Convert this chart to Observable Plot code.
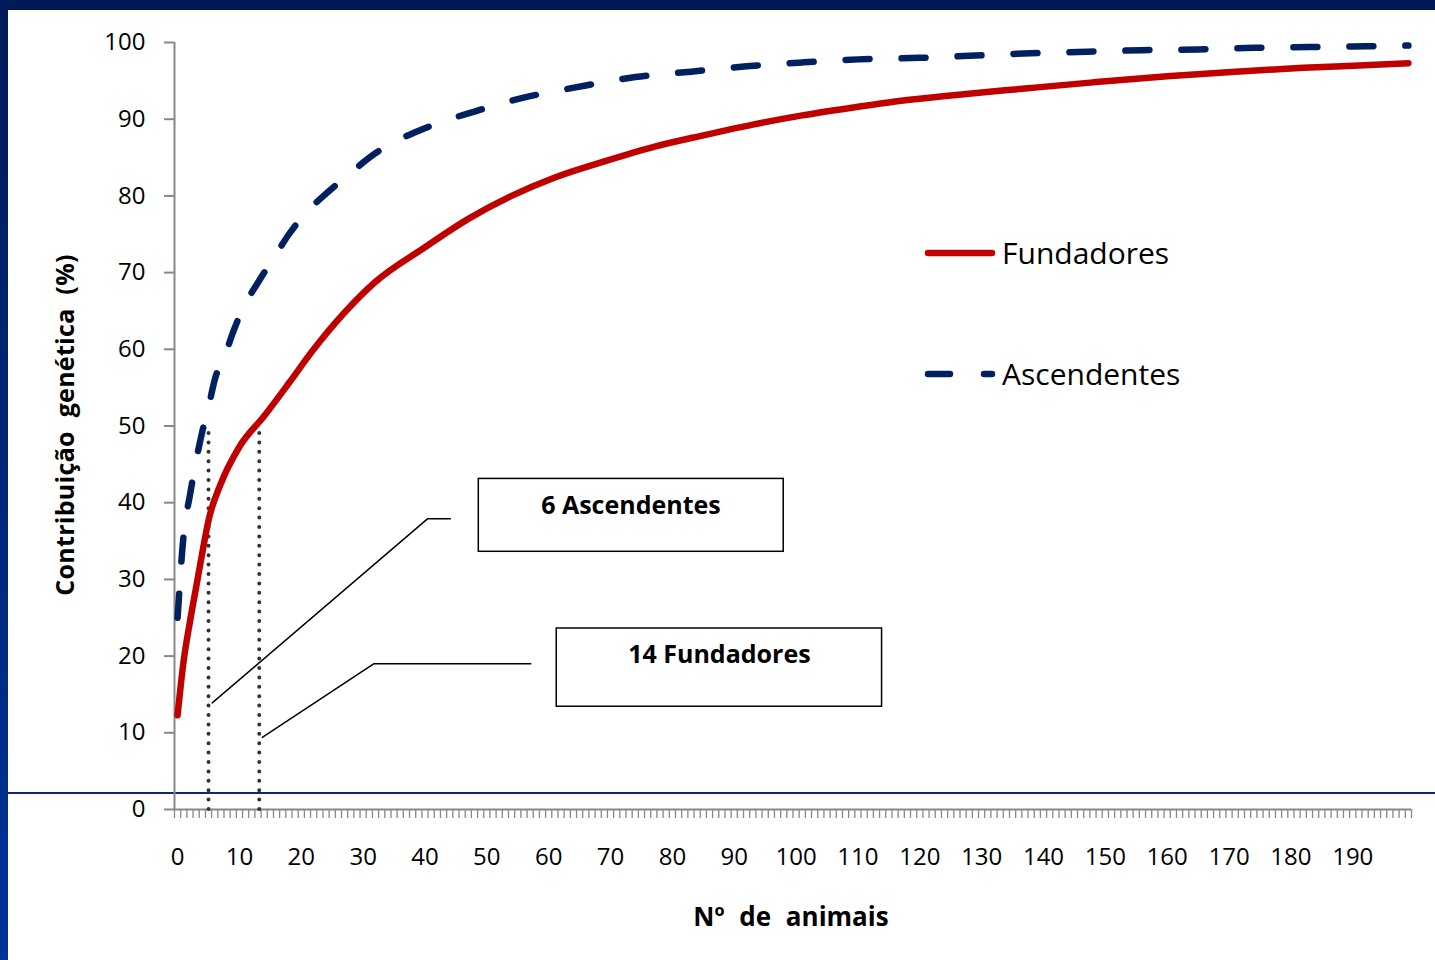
<!DOCTYPE html>
<html>
<head>
<meta charset="utf-8">
<script src="https://cdn.jsdelivr.net/npm/d3@7"></script>
<script src="https://cdn.jsdelivr.net/npm/@observablehq/plot@0.6"></script>
<style>
  html, body { margin: 0; padding: 0; background: #ffffff; }
  body { width: 1435px; height: 960px; position: relative; overflow: hidden;
         font-family: "Comic Sans MS", "Open Sans", sans-serif; }
  #chart { position: absolute; left: 0; top: 0; }
  .band-top { position: absolute; left: 0; top: 0; width: 1435px; height: 10px; background: #001a57; }
  .band-left { position: absolute; left: 0; top: 0; width: 8px; height: 960px;
               background: linear-gradient(#001a57, #003399); }
  .hline { position: absolute; left: 8px; top: 792px; width: 1427px; height: 1.5px; background: #0b2a6b; }
  .ytitle { position: absolute; left: 64px; top: 425px; transform: translate(-50%, -50%) rotate(-90deg);
            font-weight: bold; font-size: 25px; white-space: nowrap; word-spacing: 7px; letter-spacing: 0.3px; color: #000; }
  .xtitle { position: absolute; left: 791px; top: 916px; transform: translate(-50%, -50%);
            font-weight: bold; font-size: 26px; white-space: nowrap; word-spacing: 8px; color: #000; }
  #legend { position: absolute; left: 900px; top: 210px; }
</style>
</head>
<body>
<div class="hline"></div>
<div id="chart"></div>
<div class="band-top"></div>
<div class="band-left"></div>
<div class="ytitle">Contribuição genética (%)</div>
<div class="xtitle">Nº de animais</div>
<svg id="legend" width="320" height="200"></svg>
<script>
// ---- Data ----
const fundadoresX = [0, 1, 2, 3, 4, 5, 7, 10, 14, 18, 22, 27, 32, 40, 47, 54, 61, 69, 77, 85, 93, 101, 109, 117, 125, 137, 148, 160, 171, 182, 191, 199];
const fundadoresY = [12.3, 19.5, 24.5, 29, 33.5, 37.7, 42.5, 47.3, 51.3, 55.6, 60, 64.8, 68.8, 73.3, 77.0, 80.0, 82.4, 84.5, 86.4, 87.9, 89.3, 90.5, 91.5, 92.4, 93.1, 94.0, 94.8, 95.6, 96.2, 96.7, 97.0, 97.3];

const ascendentesX = [0, 1, 2, 3, 4, 5, 6, 8, 9, 11, 13, 16, 18, 21, 24, 28, 31, 35, 39, 44, 48, 53, 57, 62, 66, 74, 83, 92, 101, 110, 120, 129, 138, 147, 156, 165, 174, 183, 192, 199];
const ascendentesY = [25, 36, 41, 45.5, 49.3, 52.5, 56, 60, 62.3, 66, 68.7, 72.5, 75, 78, 80.3, 83, 85, 87, 88.5, 90, 91, 92.2, 93, 93.8, 94.4, 95.5, 96.2, 96.9, 97.4, 97.8, 98.0, 98.3, 98.6, 98.8, 99.0, 99.1, 99.3, 99.4, 99.5, 99.6];

const yTicks = [0, 10, 20, 30, 40, 50, 60, 70, 80, 90, 100];
const xTickLabels = [0, 10, 20, 30, 40, 50, 60, 70, 80, 90, 100, 110, 120, 130, 140, 150, 160, 170, 180, 190];
const xMinorTicks = d3.range(-0.5, 200, 1);

// markers: animals needed to reach 50%
const markerX = [5, 13.2];
const markerY = 50;

// annotation boxes
const boxLabels = ["6 Ascendentes", "14 Fundadores"];
const boxX1 = [48.7, 61.3];
const boxX2 = [98.0, 113.9];
const boxY1 = [33.6, 13.4];
const boxY2 = [43.1, 23.6];
const boxTextX = [73.3, 87.6];
const boxTextY = [39.6, 20.2];

// callout leader lines
const calloutId = ["a", "a", "a", "b", "b", "b"];
const calloutX = [5.6, 40.4, 44.1, 13.7, 31.7, 57.1];
const calloutY = [13.9, 37.9, 37.9, 9.4, 19.0, 19.0];

// ---- Build tables ----
const fundadores = fundadoresX.map((x, i) => ({x, y: fundadoresY[i]}));
const ascendentes = ascendentesX.map((x, i) => ({x, y: ascendentesY[i]}));
const boxes = boxLabels.map((label, i) => ({label, x1: boxX1[i], x2: boxX2[i], y1: boxY1[i], y2: boxY2[i], tx: boxTextX[i], ty: boxTextY[i]}));
const callouts = calloutX.map((x, i) => ({id: calloutId[i], x, y: calloutY[i]}));

const RED = "#c00000";
const NAVY = "#002060";
const FONT = "'Comic Sans MS', 'Open Sans', sans-serif";

const chart = Plot.plot({
  width: 1435,
  height: 960,
  marginTop: 42,
  marginBottom: 151,
  marginLeft: 174,
  marginRight: 24,
  x: {domain: [-0.5, 199.5]},
  y: {domain: [0, 100]},
  style: {fontFamily: FONT, fontSize: "24px", background: "transparent", color: "#000", overflow: "visible"},
  marks: [
    Plot.axisY({ticks: yTicks, tickSize: 10, tickPadding: 19, stroke: "#888", strokeWidth: 2, label: null, fontSize: 24}),
    Plot.axisX({ticks: xMinorTicks, tickSize: 9, tickFormat: () => "", stroke: "#888", strokeWidth: 1.3, label: null}),
    Plot.axisX({ticks: xTickLabels, tickSize: 0, tickPadding: 38, label: null, fontSize: 24}),
    Plot.ruleX([-0.5], {y1: 0, y2: 100, stroke: "#888", strokeWidth: 2}),
    Plot.ruleY([0], {stroke: "#888", strokeWidth: 2}),
    Plot.ruleX(markerX, {x: d => d, y1: 0, y2: markerY, stroke: "#333", strokeWidth: 4, strokeDasharray: "0 9.4", strokeLinecap: "round"}),
    Plot.line(callouts, {x: "x", y: "y", z: "id", stroke: "#000", strokeWidth: 1.5}),
    Plot.rect(boxes, {x1: "x1", x2: "x2", y1: "y1", y2: "y2", fill: "#fff", stroke: "#000", strokeWidth: 1.5}),
    Plot.text(boxes, {x: "tx", y: "ty", text: "label", fontWeight: "bold", fontSize: 25, textAnchor: "middle", lineAnchor: "middle", fill: "#000"}),
    Plot.line(fundadores, {x: "x", y: "y", stroke: RED, strokeWidth: 6.5, strokeLinecap: "round", strokeLinejoin: "round", curve: "monotone-x"}),
    Plot.line(ascendentes, {x: "x", y: "y", stroke: NAVY, strokeWidth: 6.5, strokeLinecap: "round", strokeDasharray: "24 32", curve: "monotone-x"})
  ]
});
document.getElementById("chart").appendChild(chart);

// ---- Legend ----
const legendItems = [
  {label: "Fundadores", color: RED, dash: null, y: 43},
  {label: "Ascendentes", color: NAVY, dash: "22 34", y: 164}
];
const lg = d3.select("#legend");
legendItems.forEach(it => {
  const ln = lg.append("line")
    .attr("x1", 28).attr("x2", 92)
    .attr("y1", it.y).attr("y2", it.y)
    .attr("stroke", it.color).attr("stroke-width", 6.5).attr("stroke-linecap", "round");
  if (it.dash) ln.attr("stroke-dasharray", it.dash);
  lg.append("text").attr("x", 102).attr("y", it.y).attr("dy", "0.35em")
    .attr("font-family", FONT).attr("font-size", 30).attr("fill", "#000").text(it.label);
});
</script>
</body>
</html>
